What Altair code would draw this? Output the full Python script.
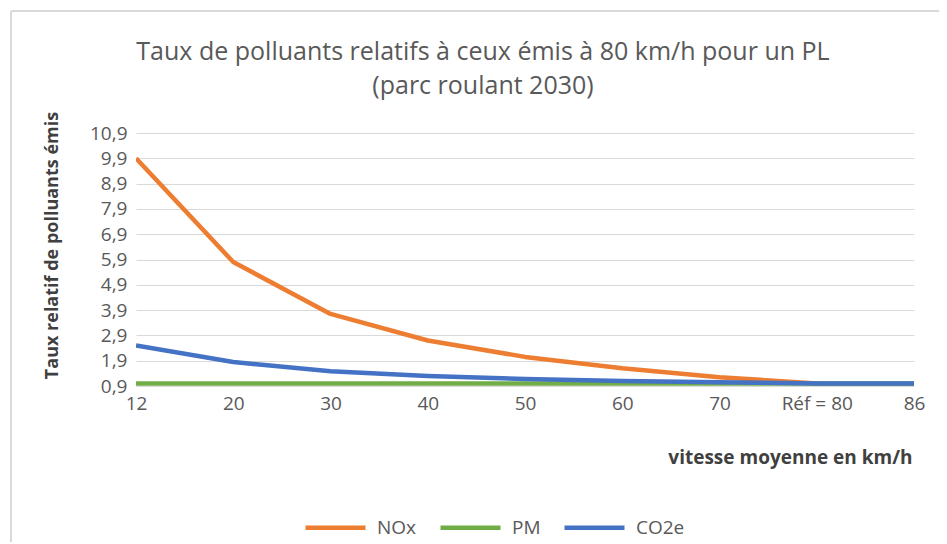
import altair as alt
import pandas as pd

categories = ["12", "20", "30", "40", "50", "60", "70", "Réf = 80", "86"]
nox = [9.9, 5.8, 3.75, 2.7, 2.05, 1.6, 1.25, 1.0, 0.88]
pm = [1.0, 1.0, 1.0, 1.0, 1.0, 1.0, 1.0, 1.0, 1.0]
co2e = [2.5, 1.85, 1.48, 1.3, 1.18, 1.1, 1.05, 1.0, 1.0]
series = ["NOx", "PM", "CO2e"]
colors = ["#ED7D31", "#70AD47", "#4472C4"]
y_ticks = [0.9, 1.9, 2.9, 3.9, 4.9, 5.9, 6.9, 7.9, 8.9, 9.9, 10.9]

rows = []
for name, vals in zip(series, [nox, pm, co2e]):
    for c, v in zip(categories, vals):
        rows.append({"vitesse": c, "serie": name, "valeur": v})
df = pd.DataFrame(rows)

FONT = "Open Sans"
GREY = "#595959"
W, H = 778, 253

lines = alt.Chart(df).mark_line(strokeWidth=4.5, strokeJoin="round", clip=True).encode(
    x=alt.X("vitesse:N", sort=categories,
            scale=alt.Scale(type="point", padding=0),
            axis=alt.Axis(title="vitesse moyenne en km/h", labelAngle=0, labelFontSize=19,
                          labelColor=GREY, labelFont=FONT, labelPadding=8, ticks=False,
                          domain=False, grid=False,
                          titleFont=FONT, titleFontSize=19, titleFontWeight="bold",
                          titleColor="#404040", titleAnchor="end", titleAlign="right",
                          titleX=776, titleY=71, titleBaseline="middle")),
    y=alt.Y("valeur:Q",
            scale=alt.Scale(domain=[0.9, 10.9], nice=False, zero=False),
            axis=alt.Axis(title="Taux relatif de polluants émis", values=y_ticks,
                          labelExpr="replace(format(datum.value,'.1f'),'.',',')",
                          labelFontSize=19, labelColor=GREY, labelFont=FONT,
                          labelPadding=9, ticks=False, domain=False,
                          gridColor="#D9D9D9", gridWidth=1.2,
                          titleFont=FONT, titleFontSize=18, titleFontWeight="bold",
                          titleColor="#404040", titleAngle=270, titleX=-84, titleY=112,
                          titleBaseline="middle", titleAlign="center")),
    color=alt.Color("serie:N", sort=series,
                    scale=alt.Scale(domain=series, range=colors),
                    legend=alt.Legend(title=None, orient="none", direction="horizontal",
                                      legendX=167, legendY=362,
                                      symbolType="stroke", symbolSize=3600,
                                      symbolStrokeWidth=4.5, labelFontSize=19,
                                      labelFont=FONT, labelColor=GREY,
                                      columnPadding=14, labelOffset=9)),
)

frame_v = alt.Chart(df).mark_rule(color="#D9D9D9", strokeWidth=2).encode(
    x=alt.value(-125), y=alt.value(-122), y2=alt.value(600))
frame_h = alt.Chart(df).mark_rule(color="#D9D9D9", strokeWidth=2).encode(
    x=alt.value(-125), x2=alt.value(900), y=alt.value(-122))

chart = alt.layer(frame_v, frame_h, lines).properties(
    width=W,
    height=H,
    autosize=alt.AutoSizeParams(type="none"),
    padding={"left": 128, "top": 125, "right": 25, "bottom": 156},
    title=alt.TitleParams(
        text=["Taux de polluants relatifs à ceux émis à 80 km/h pour un PL", "(parc roulant 2030)"],
        fontSize=25, font=FONT, fontWeight="normal", color=GREY, anchor="middle",
        frame="group", dx=-42, offset=-89, lineHeight=34,
    ),
).configure_view(stroke=None)

chart.save("out.html", embed_options={"renderer": "svg", "actions": False})
